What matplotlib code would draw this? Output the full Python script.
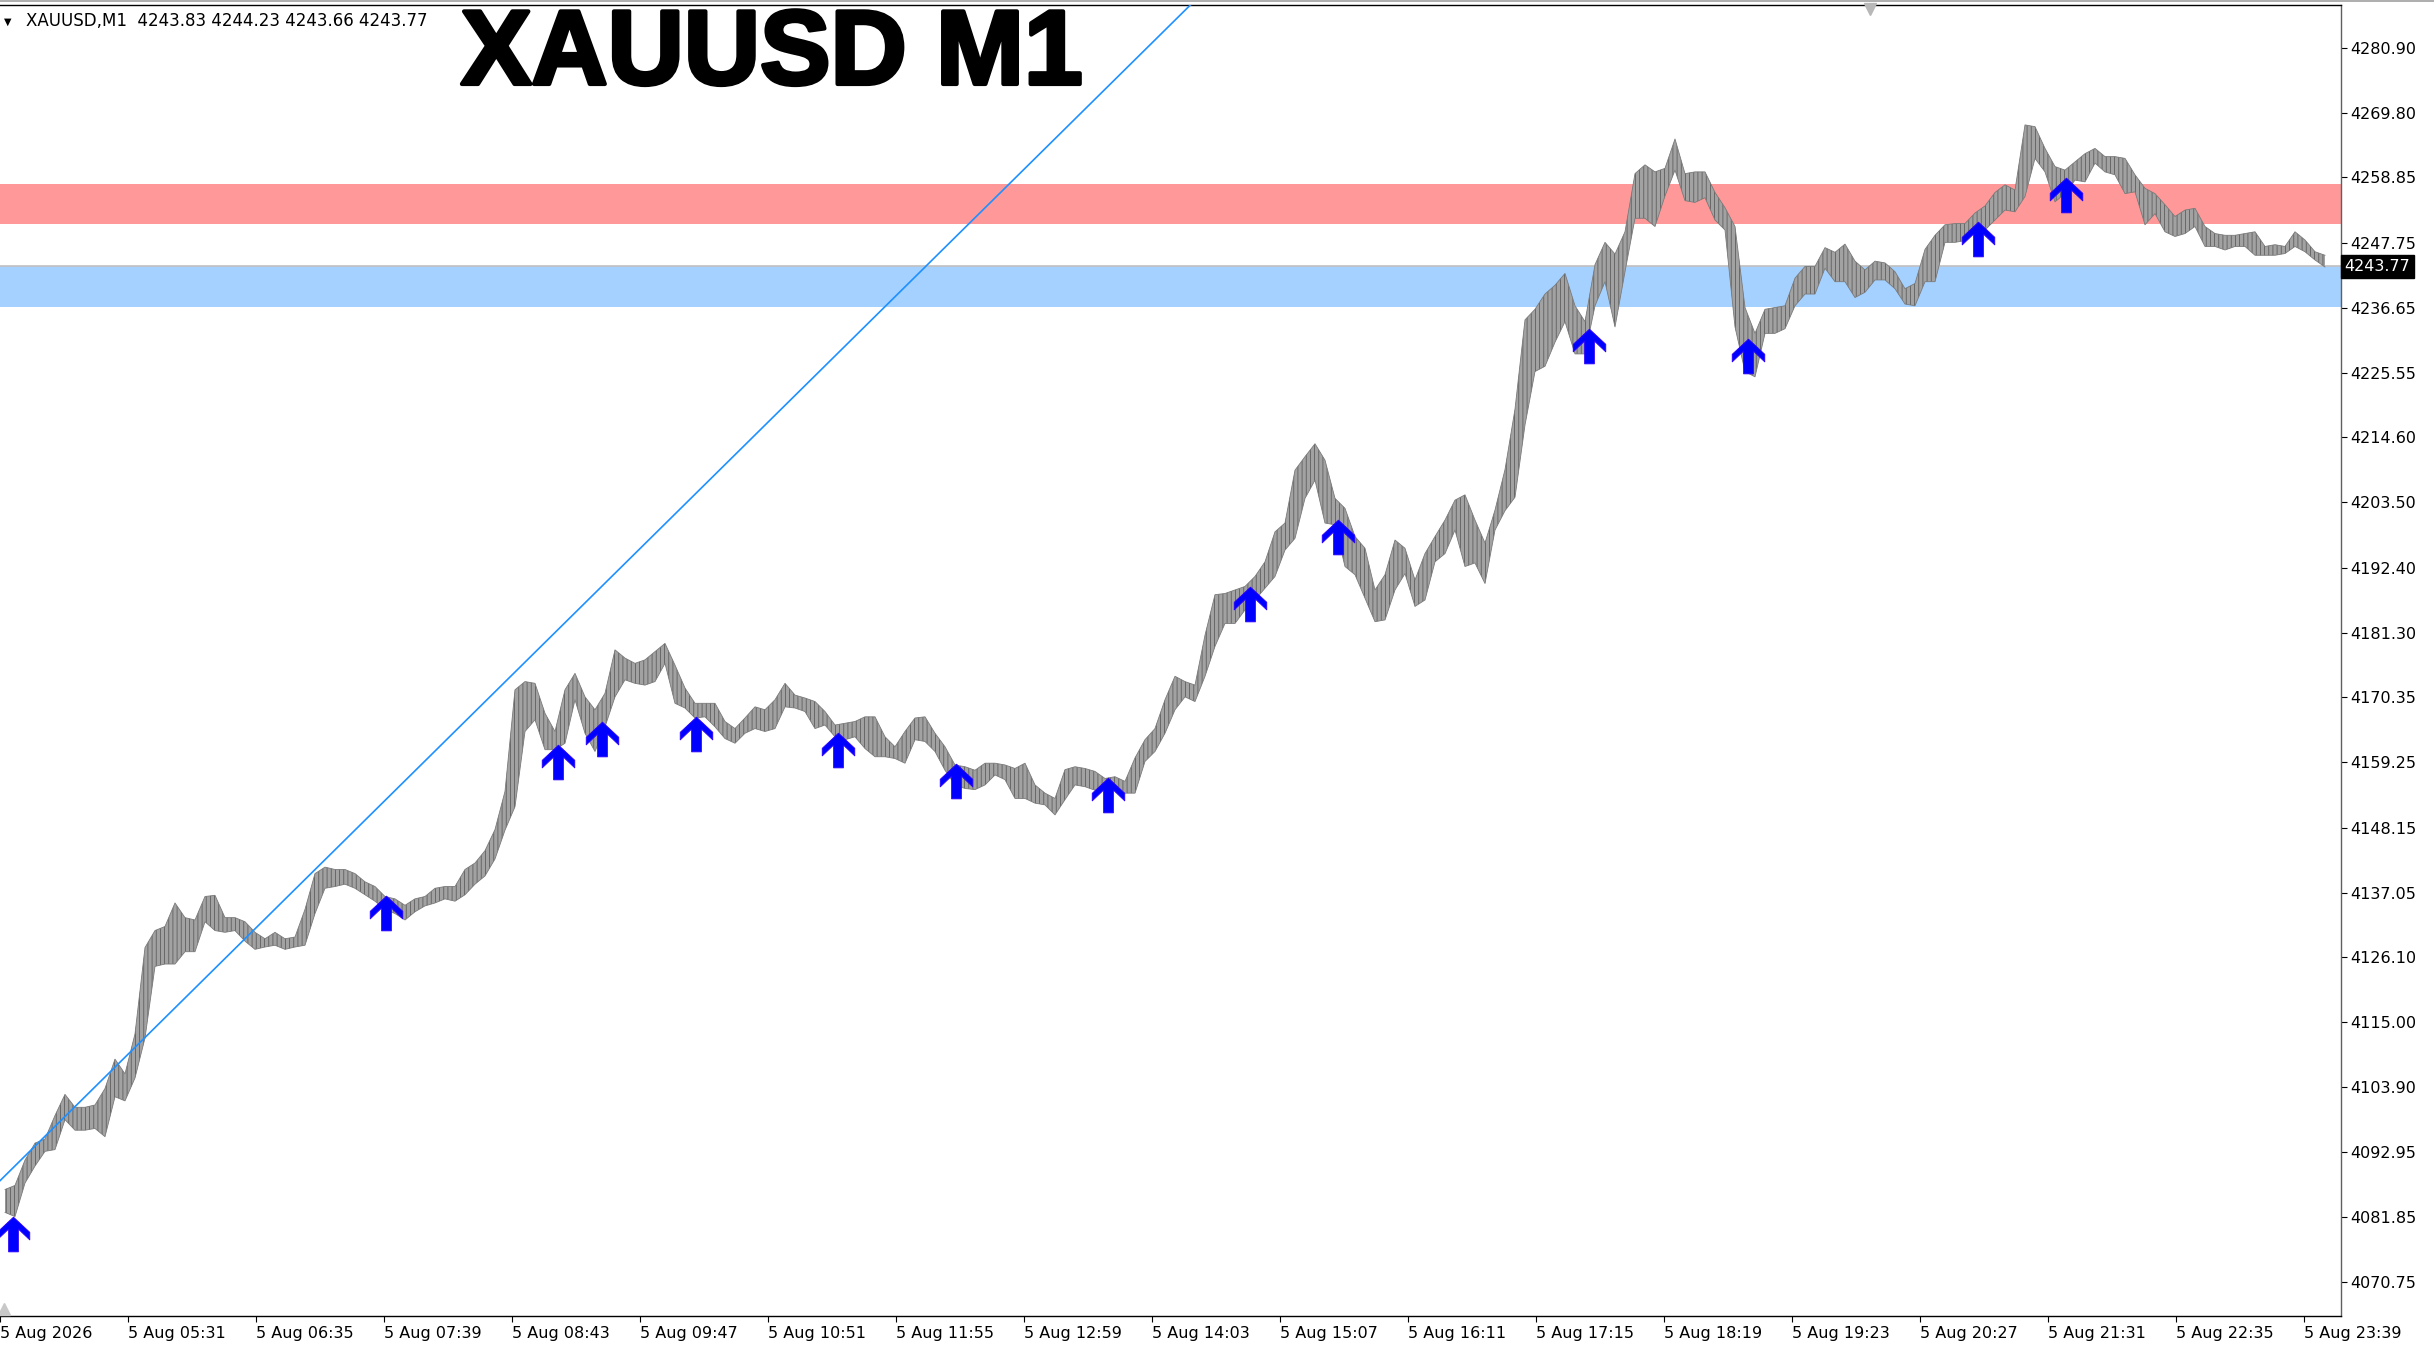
import numpy as np
import matplotlib
matplotlib.use("Agg")
import matplotlib.pyplot as plt
from matplotlib.path import Path
import matplotlib.transforms as mtransforms
import matplotlib.patheffects as pe

# ---------------- data ----------------
symbol_title = "XAUUSD M1"
info_text = "XAUUSD,M1  4243.83 4244.23 4243.66 4243.77"
last_price = 4243.77

bin_minutes = 5  # each hi/lo pair covers 5 one-minute bars

hi = [
    4086.5, 4087.2, 4091.5, 4094.4, 4095.1, 4099.1, 4102.7, 4100.5, 4100.5, 4100.9,
    4103.7, 4108.7, 4106.2, 4113.0, 4127.7, 4130.6, 4131.3, 4135.3, 4132.8, 4132.4,
    4136.4, 4136.6, 4132.8, 4132.8, 4132.1, 4130.3, 4129.2, 4130.3, 4129.2, 4129.5,
    4134.2, 4140.3, 4141.4, 4141.0, 4141.0, 4140.3, 4138.9, 4138.1, 4136.4, 4136.0,
    4134.9, 4136.0, 4136.4, 4137.8, 4138.1, 4138.1, 4141.0, 4142.1, 4144.2, 4147.8,
    4154.3, 4171.6, 4173.0, 4172.7, 4167.6, 4164.5, 4171.6, 4174.4, 4170.4, 4168.2,
    4171.0, 4178.4, 4177.0, 4176.1, 4176.7, 4178.1, 4179.5, 4175.8, 4171.9, 4169.3,
    4169.3, 4169.3, 4166.2, 4165.0, 4166.8, 4168.7, 4168.2, 4169.9, 4172.7, 4170.7,
    4170.2, 4169.6, 4167.9, 4165.6, 4165.9, 4166.2, 4167.0, 4167.0, 4163.6, 4161.9,
    4164.5, 4166.8, 4167.0, 4164.2, 4161.9, 4158.8, 4158.5, 4157.9, 4159.1, 4159.1,
    4158.8, 4158.2, 4159.1, 4155.4, 4154.0, 4153.1, 4158.0, 4158.5, 4158.2, 4157.7,
    4156.5, 4156.8, 4156.0, 4160.0, 4163.1, 4165.0, 4169.9, 4173.9, 4173.0, 4172.4,
    4180.9, 4187.8, 4188.0, 4188.6, 4189.2, 4190.9, 4193.4, 4198.5, 4200.0, 4209.0,
    4211.3, 4213.5, 4210.7, 4204.2, 4202.5, 4197.7, 4195.7, 4188.6, 4191.2, 4197.1,
    4195.7, 4190.3, 4194.8, 4197.7, 4200.5, 4203.9, 4204.8, 4200.5, 4196.6, 4202.2,
    4209.1, 4219.4, 4234.6, 4236.4, 4239.0, 4240.5, 4242.5, 4237.0, 4234.3, 4244.0,
    4247.8, 4245.8, 4249.6, 4259.5, 4261.0, 4259.8, 4260.4, 4265.4, 4259.5, 4259.8,
    4259.8, 4256.3, 4253.7, 4250.5, 4236.7, 4232.3, 4236.4, 4236.7, 4237.0, 4241.7,
    4243.7, 4243.7, 4246.9, 4246.1, 4247.5, 4244.6, 4243.1, 4244.6, 4244.3, 4242.8,
    4239.9, 4240.8, 4246.6, 4249.0, 4250.8, 4251.0, 4251.0, 4252.8, 4254.0, 4256.3,
    4257.6, 4256.7, 4267.8, 4267.5, 4263.8, 4260.7, 4260.1, 4261.5, 4262.9, 4263.8,
    4262.4, 4262.4, 4262.1, 4259.3, 4257.0, 4256.1, 4254.2, 4252.2, 4253.3, 4253.6,
    4250.5, 4249.3, 4249.0, 4249.0, 4249.3, 4249.6, 4247.1, 4247.4, 4247.1, 4249.6,
    4248.2, 4246.2, 4245.6,
]
lo = [
    4082.6, 4081.9, 4087.6, 4090.5, 4093.0, 4093.3, 4098.4, 4096.6, 4096.6, 4096.9,
    4095.5, 4102.3, 4101.6, 4105.5, 4112.3, 4124.5, 4124.9, 4124.9, 4127.0, 4127.0,
    4132.1, 4130.6, 4130.3, 4130.6, 4128.8, 4127.4, 4127.8, 4128.1, 4127.4, 4127.8,
    4128.1, 4133.5, 4137.8, 4138.1, 4138.5, 4137.8, 4136.7, 4135.6, 4134.2, 4133.5,
    4132.4, 4133.8, 4134.8, 4135.3, 4136.0, 4135.6, 4136.7, 4138.5, 4139.9, 4142.8,
    4147.7, 4151.7, 4164.5, 4166.5, 4161.4, 4161.4, 4162.5, 4169.9, 4164.2, 4161.1,
    4165.3, 4170.4, 4173.3, 4172.7, 4172.4, 4173.0, 4176.1, 4169.3, 4168.5, 4166.8,
    4167.0, 4165.3, 4163.3, 4162.5, 4164.2, 4165.0, 4164.5, 4165.0, 4168.7, 4168.5,
    4167.9, 4165.0, 4165.6, 4163.6, 4163.1, 4163.6, 4161.6, 4160.2, 4160.2, 4159.9,
    4159.1, 4163.1, 4162.8, 4161.1, 4157.9, 4155.4, 4154.8, 4154.6, 4155.4, 4157.1,
    4156.3, 4153.1, 4153.1, 4152.3, 4152.0, 4150.3, 4152.9, 4155.4, 4155.1, 4154.5,
    4154.8, 4154.5, 4154.0, 4154.0, 4159.4, 4161.1, 4164.2, 4168.2, 4170.4, 4169.6,
    4173.9, 4179.0, 4182.9, 4182.9, 4185.2, 4186.9, 4188.9, 4190.9, 4195.4, 4197.4,
    4204.2, 4207.3, 4200.0, 4199.7, 4192.6, 4191.2, 4187.2, 4183.2, 4183.5, 4188.6,
    4191.4, 4185.8, 4186.9, 4193.4, 4194.8, 4198.8, 4192.6, 4193.2, 4189.7, 4198.8,
    4202.1, 4204.4, 4216.7, 4225.8, 4226.7, 4230.8, 4234.3, 4228.8, 4228.8, 4237.0,
    4241.1, 4233.4, 4242.8, 4251.9, 4251.9, 4250.5, 4255.7, 4260.1, 4254.9, 4254.6,
    4255.4, 4251.6, 4249.9, 4233.4, 4225.8, 4224.9, 4232.3, 4232.3, 4233.1, 4237.0,
    4239.0, 4239.0, 4243.4, 4241.1, 4241.1, 4238.4, 4239.3, 4241.4, 4241.4, 4239.9,
    4237.3, 4237.0, 4241.1, 4241.1, 4247.8, 4247.8, 4248.1, 4249.6, 4249.9, 4251.6,
    4253.3, 4253.0, 4255.6, 4262.1, 4259.8, 4254.7, 4256.1, 4258.4, 4258.1, 4261.3,
    4259.8, 4259.3, 4256.1, 4256.4, 4250.8, 4252.7, 4249.6, 4248.8, 4249.3, 4250.5,
    4247.1, 4247.1, 4246.5, 4247.1, 4247.1, 4245.6, 4245.6, 4245.6, 4245.9, 4247.1,
    4246.2, 4244.8, 4243.6,
]

# buy-signal arrows: minute offset from 04:27, price
arrow_t = [6.7, 193, 278.8, 300.8, 348, 418.8, 477.8, 553.8, 625, 668.8, 794.7, 873.8, 988.8, 1033]
arrow_p = [4079.0, 4133.6, 4159.3, 4163.2, 4164.0, 4161.4, 4156.1, 4153.6, 4186.2, 4197.6,
           4230.2, 4228.5, 4248.3, 4255.9]

# trend line anchor points (minute, price)
trend_t = [0, 250]
trend_p = [4088.0, 4172.1]

# zones
red_zone = [4251.0, 4257.8]
blue_zone = [4236.85, 4243.7]

# axes
y_ticks = [4280.90, 4269.80, 4258.85, 4247.75, 4236.65, 4225.55, 4214.60, 4203.50,
           4192.40, 4181.30, 4170.35, 4159.25, 4148.15, 4137.05, 4126.10, 4115.00,
           4103.90, 4092.95, 4081.85, 4070.75]
x_tick_labels = ["5 Aug 2026", "5 Aug 05:31", "5 Aug 06:35", "5 Aug 07:39", "5 Aug 08:43",
                 "5 Aug 09:47", "5 Aug 10:51", "5 Aug 11:55", "5 Aug 12:59", "5 Aug 14:03",
                 "5 Aug 15:07", "5 Aug 16:11", "5 Aug 17:15", "5 Aug 18:19", "5 Aug 19:23",
                 "5 Aug 20:27", "5 Aug 21:31", "5 Aug 22:35", "5 Aug 23:39"]
x_tick_step = 64  # minutes between labels
x_range = [0, 1170.5]
y_range = [4064.96, 4288.22]

# ---------------- figure ----------------
plt.rcParams["hatch.linewidth"] = 0.6
plt.rcParams["hatch.color"] = "#5e5e5e"
W, H, DPI = 2434, 1349, 100
fig = plt.figure(figsize=(W / DPI, H / DPI), dpi=DPI)
fig.patch.set_facecolor("white")
ax = fig.add_axes([0, 1 - 1316 / H, 2341 / W, (1316 - 5) / H])
ax.set_xlim(*x_range)
ax.set_ylim(*y_range)
ax.set_facecolor("white")

# zones
ax.axhspan(red_zone[0], red_zone[1], color="#FF9999", lw=0, zorder=1)
ax.axhspan(blue_zone[0], blue_zone[1], color="#A4D1FF", lw=0, zorder=1)
ax.axhline(last_price, color="#C0C0C0", lw=1.2, zorder=1.5)

# price band (5-minute high/low envelope of 1-minute bars)
t = np.arange(len(hi)) * bin_minutes + bin_minutes / 2
ax.fill_between(t, lo, hi, facecolor="#a2a2a2", edgecolor="#5e5e5e", hatch="||||",
                lw=0, zorder=2)
ax.plot(t, hi, color="#7a7a7a", lw=0.6, zorder=2.1)
ax.plot(t, lo, color="#7a7a7a", lw=0.6, zorder=2.1)

# trend line
ax.axline((trend_t[0], trend_p[0]), (trend_t[1], trend_p[1]), color="#1E90FF", lw=1.2, zorder=3)

# arrows
verts = [(0, 16), (15, 2), (15, -5), (4.5, 5), (4.5, -16), (-4.5, -16), (-4.5, 5),
         (-15, -5), (-15, 2), (0, 16)]
codes = [Path.MOVETO] + [Path.LINETO] * (len(verts) - 2) + [Path.CLOSEPOLY]
arrow_marker = Path(verts, codes)
ax.plot(arrow_t, arrow_p, ls="none", marker=arrow_marker, markersize=25,
        color="#0000FF", markeredgecolor="#2a00ff", markeredgewidth=0.6, zorder=4)

# spines
ax.spines["left"].set_visible(False)
ax.spines["top"].set_color("black")
ax.spines["bottom"].set_color("black")
ax.spines["right"].set_color("#606060")
for s in ["top", "bottom", "right"]:
    ax.spines[s].set_linewidth(1.0)

# y axis on right
ax.yaxis.tick_right()
ax.set_yticks(y_ticks)
ax.set_yticklabels([f"{v:.2f}" for v in y_ticks])
ax.tick_params(axis="y", direction="out", length=4.3, width=0.8, pad=2.5,
               labelsize=11.5, colors="black", left=False)

# x axis
ax.set_xticks([i * x_tick_step for i in range(len(x_tick_labels))])
ax.set_xticklabels(x_tick_labels)
ax.tick_params(axis="x", direction="out", length=4.3, width=0.8, pad=3,
               labelsize=11.5, colors="black")
for lab in ax.get_xticklabels():
    lab.set_ha("left")

# last price box
trans = mtransforms.blended_transform_factory(ax.transAxes, ax.transData)
ax.text(1.0015, last_price, f"{last_price:.2f}", transform=trans, ha="left", va="center",
        fontsize=11.5, color="white",
        bbox=dict(boxstyle="square,pad=0.25", facecolor="black", edgecolor="black"),
        clip_on=False, zorder=10)

# small chart markers
ax.plot([935], [y_range[1] - 0.6], marker="v", markersize=8, color="#B8B8B8",
        clip_on=False, zorder=5)
ax.plot([2.0], [y_range[0] + 1.2], marker="^", markersize=9, color="#C8C8C8",
        clip_on=False, zorder=5)

# window top border
fig.add_artist(plt.Line2D([0, 1], [1 - 0.5 / H, 1 - 0.5 / H], color="#A0A0A0", lw=1.2))

# title and info text
fig.text(461 / W, 1 - 84 / H, symbol_title, fontsize=76, fontweight="bold",
         family=["Liberation Sans", "DejaVu Sans"], color="black", va="baseline", ha="left",
         path_effects=[pe.withStroke(linewidth=3.0, foreground="black")])
fig.text(4 / W, 1 - 25 / H, "\u25BC", fontsize=7, color="black", va="baseline", ha="left")
fig.text(26 / W, 1 - 26 / H, info_text, fontsize=12,
         family=["Liberation Sans Narrow", "DejaVu Sans"], color="black",
         va="baseline", ha="left")

fig.savefig("out.png", dpi=DPI, facecolor="white")
